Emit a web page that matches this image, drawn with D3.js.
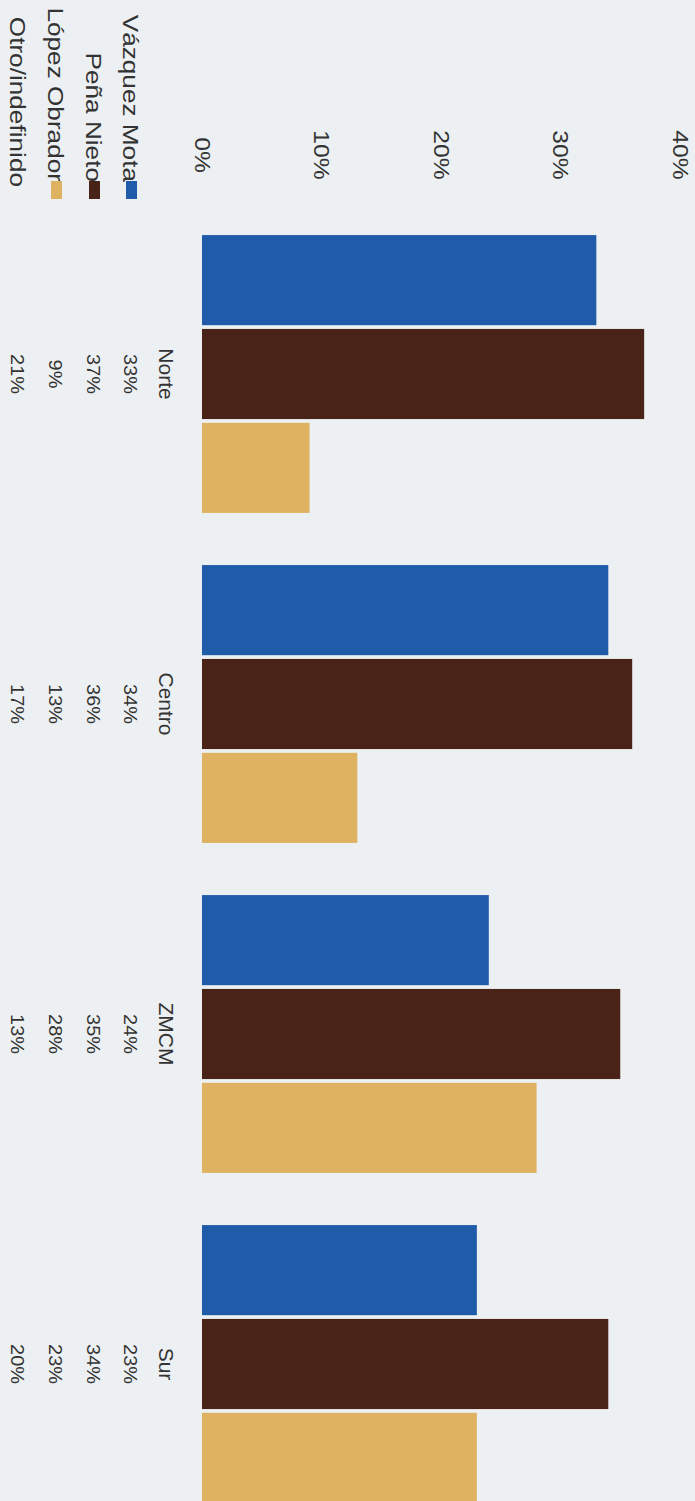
<!DOCTYPE html>
<html>
<head>
<meta charset="utf-8">
<script src="https://cdn.jsdelivr.net/npm/d3@7"></script>
<style>
  body { margin: 0; background: #edf0f2; }
  svg { display: block; }
  text { font-family: "Liberation Sans", Arial, sans-serif; fill: #333; }
</style>
</head>
<body>
<div id="chart"></div>
<script>
var regions = ['Norte', 'Centro', 'ZMCM', 'Sur'];
var candidates = ['Vázquez Mota', 'Peña Nieto', 'López Obrador', 'Otro/indefinido'];
var vazquezMota = [33, 34, 24, 23];
var penaNieto = [37, 36, 35, 34];
var lopezObrador = [9, 13, 28, 23];
var otro = [21, 17, 13, 20];
var yTicks = [0, 10, 20, 30, 40];

var width = 695,
    height = 1501;

var colors = ['#1f5ba9', '#4a2318', '#dfb262'];
var series = [vazquezMota, penaNieto, lopezObrador, otro];

var svg = d3.select('#chart').append('svg')
    .attr('width', width)
    .attr('height', height);

svg.append('rect')
    .attr('width', width)
    .attr('height', height)
    .style('fill', '#edf0f2');

// value axis runs left -> right (chart is turned a quarter clockwise)
var xScale = d3.scaleLinear()
    .domain([0, 40])
    .range([202, 680]);

var yScale = d3.scaleBand()
    .domain(regions)
    .range([209, 1529])
    .paddingInner(0.158)
    .paddingOuter(0.079);

var inner = d3.scaleBand()
    .domain([0, 1, 2])
    .range([0, yScale.bandwidth()])
    .paddingInner(0.04);

// tick labels
var axis = svg.append('g')
    .attr('transform', 'translate(0,155)')
    .call(d3.axisTop(xScale).tickValues(yTicks).tickSize(0).tickFormat(function(d) { return d + '%'; }));
axis.select('.domain').remove();
axis.selectAll('text')
    .attr('x', 0).attr('y', 0).attr('dy', null)
    .attr('transform', 'rotate(90) scale(1.12,1)')
    .attr('text-anchor', 'middle')
    .attr('dominant-baseline', 'central')
    .style('font-size', '22px')
    .style('fill', '#333');

// bars (only the first three candidates are drawn)
var groups = svg.selectAll('g.region').data(regions)
  .enter().append('g')
    .attr('class', 'region')
    .attr('transform', function(d) { return 'translate(0,' + yScale(d) + ')'; });

groups.selectAll('rect')
    .data(function(d, i) { return [vazquezMota[i], penaNieto[i], lopezObrador[i]]; })
  .enter().append('rect')
    .attr('x', xScale(0))
    .attr('y', function(d, i) { return inner(i); })
    .attr('height', inner.bandwidth())
    .attr('width', function(d) { return xScale(d) - xScale(0); })
    .style('fill', function(d, i) { return colors[i]; });

// data table under the chart (left side here)
var rowX = [166, 131, 94, 56, 18];

function rotText(sel, x, y, anchor, size, stretch) {
  return sel.append('text')
      .attr('transform', 'translate(' + x + ',' + y + ') rotate(90) scale(' + (stretch || 1) + ',1)')
      .attr('text-anchor', anchor)
      .attr('dominant-baseline', 'central')
      .style('font-size', size + 'px');
}

regions.forEach(function(r, i) {
  var cy = yScale(r) + yScale.bandwidth() / 2;
  rotText(svg, rowX[0], cy, 'middle', 21).text(r);
  series.forEach(function(s, j) {
    rotText(svg, rowX[j + 1], cy, 'middle', 19, 1.05).text(s[i] + '%');
  });
});

// legend labels with swatches
candidates.forEach(function(c, j) {
  var end = j < 3 ? 182 : 187;
  rotText(svg, rowX[j + 1], end, 'end', 22, 1.19).text(c);
  if (j < 3) {
    svg.append('rect')
        .attr('x', rowX[j + 1] - 5)
        .attr('y', 181)
        .attr('width', 11)
        .attr('height', 18)
        .style('fill', colors[j]);
  }
});
</script>
</body>
</html>
